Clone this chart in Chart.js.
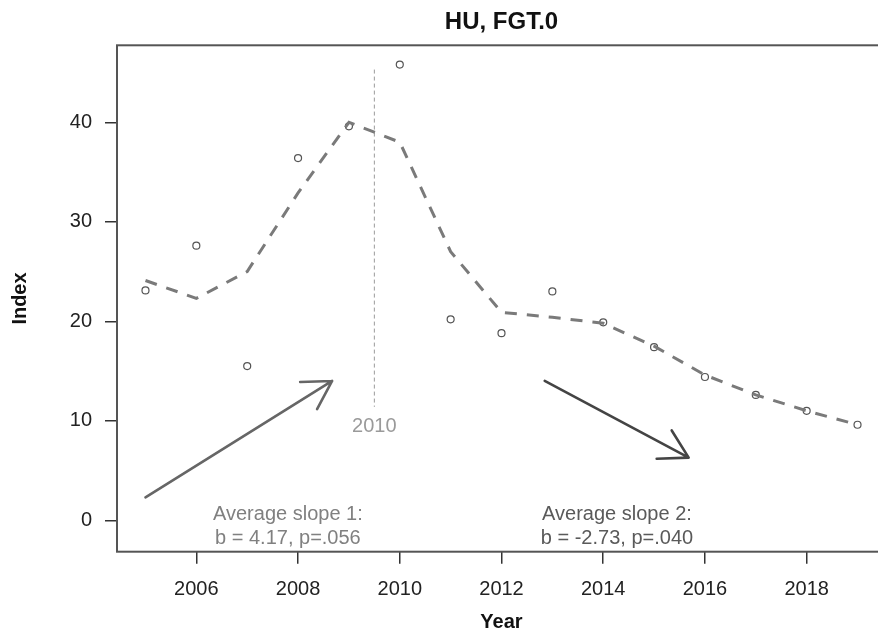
<!DOCTYPE html>
<html>
<head>
<meta charset="utf-8">
<script src="https://cdn.jsdelivr.net/npm/chart.js@4/dist/chart.umd.min.js"></script>
<style>
  html, body { margin: 0; padding: 0; background: #fff; overflow: hidden; }
  #outer { width: 878px; height: 635px; overflow: hidden; position: relative; }
  #wrap { width: 900px; height: 635px; position: absolute; left: 0; top: 0; }
</style>
</head>
<body>
<div id="outer"><div id="wrap"><canvas id="c"></canvas></div></div>
<script>
// ---- data ----
const years = [2005, 2006, 2007, 2008, 2009, 2010, 2011, 2012, 2013, 2014, 2015, 2016, 2017, 2018, 2019];
const indexValues = [23.1, 27.6, 15.5, 36.4, 39.6, 45.8, 20.2, 18.8, 23.0, 19.9, 17.4, 14.4, 12.6, 11.0, 9.6];
const smoothValues = [24.1, 22.3, 25.0, 32.9, 40.0, 38.0, 27.0, 20.9, 20.4, 19.8, 17.5, 14.6, 12.6, 11.0, 9.6];
const xTickValues = [2006, 2008, 2010, 2012, 2014, 2016, 2018];
const yTickValues = [0, 10, 20, 30, 40];
const breakYear = 2009.5;
const breakLabel = '2010';
const breakSpan = [11.4, 45.3];
const arrow1 = [[2005.0, 2.3], [2008.67, 14.0]];
const arrow2 = [[2012.85, 14.0], [2015.68, 6.3]];
const slope1Text = ['Average slope 1:', 'b = 4.17, p=.056'];
const slope2Text = ['Average slope 2:', 'b = -2.73, p=.040'];
const titleText = 'HU, FGT.0';
const xTitle = 'Year';
const yTitle = 'Index';

// ---- annotation placement (layout, not data) ----
const FONT = '"Liberation Sans", Arial, Helvetica, sans-serif';
const slope1Anchor = { x: 2007.8, y1: 0.0, y2: -2.4 };
const slope2Anchor = { x: 2014.27, y1: 0.0, y2: -2.4 };
const breakLabelY = 9.4;

const lineData = years.map((y, i) => ({ x: y, y: smoothValues[i] }));
const pointData = years.map((y, i) => ({ x: y, y: indexValues[i] }));

function drawArrow(ctx, xs, ys, a, color) {
  const x0 = xs.getPixelForValue(a[0][0]), y0 = ys.getPixelForValue(a[0][1]);
  const x1 = xs.getPixelForValue(a[1][0]), y1 = ys.getPixelForValue(a[1][1]);
  const ang = Math.atan2(y1 - y0, x1 - x0);
  const L = 32, spread = Math.PI / 6;
  ctx.save();
  ctx.strokeStyle = color;
  ctx.lineWidth = 2.6;
  ctx.lineCap = 'round';
  ctx.lineJoin = 'round';
  ctx.beginPath();
  ctx.moveTo(x0, y0); ctx.lineTo(x1, y1);
  ctx.moveTo(x1 - L * Math.cos(ang - spread), y1 - L * Math.sin(ang - spread));
  ctx.lineTo(x1, y1);
  ctx.lineTo(x1 - L * Math.cos(ang + spread), y1 - L * Math.sin(ang + spread));
  ctx.stroke();
  ctx.restore();
}

const decor = {
  id: 'decor',
  beforeDatasetsDraw(chart) {
    const { ctx, scales: { x, y } } = chart;
    ctx.save();
    ctx.strokeStyle = '#9a9a9a';
    ctx.lineWidth = 1;
    ctx.setLineDash([4, 3]);
    const bx = x.getPixelForValue(breakYear);
    ctx.beginPath();
    ctx.moveTo(bx, y.getPixelForValue(breakSpan[1]));
    ctx.lineTo(bx, y.getPixelForValue(breakSpan[0]));
    ctx.stroke();
    ctx.restore();
  },
  afterDatasetsDraw(chart) {
    const { ctx, chartArea: ca, scales: { x, y } } = chart;
    ctx.save();
    ctx.strokeStyle = '#555';
    ctx.lineWidth = 2;
    ctx.strokeRect(ca.left, ca.top, ca.right - ca.left, ca.bottom - ca.top);
    ctx.restore();

    ctx.save();
    ctx.font = '20px ' + FONT;
    ctx.fillStyle = '#9a9a9a';
    ctx.textAlign = 'center';
    ctx.textBaseline = 'middle';
    ctx.fillText(breakLabel, x.getPixelForValue(breakYear), y.getPixelForValue(breakLabelY));
    ctx.restore();

    drawArrow(ctx, x, y, arrow1, '#666');
    drawArrow(ctx, x, y, arrow2, '#444');

    ctx.save();
    ctx.font = '20px ' + FONT;
    ctx.textAlign = 'center';
    ctx.textBaseline = 'alphabetic';
    ctx.fillStyle = '#808080';
    ctx.fillText(slope1Text[0], x.getPixelForValue(slope1Anchor.x), y.getPixelForValue(slope1Anchor.y1));
    ctx.fillText(slope1Text[1], x.getPixelForValue(slope1Anchor.x), y.getPixelForValue(slope1Anchor.y2));
    ctx.fillStyle = '#5a5a5a';
    ctx.fillText(slope2Text[0], x.getPixelForValue(slope2Anchor.x), y.getPixelForValue(slope2Anchor.y1));
    ctx.fillText(slope2Text[1], x.getPixelForValue(slope2Anchor.x), y.getPixelForValue(slope2Anchor.y2));
    ctx.restore();

    const cx = (ca.left + ca.right) / 2;
    ctx.save();
    ctx.fillStyle = '#111';
    ctx.textAlign = 'center';
    ctx.textBaseline = 'middle';
    ctx.font = 'bold 24px ' + FONT;
    ctx.fillText(titleText, cx, 22);
    ctx.font = 'bold 20px ' + FONT;
    ctx.fillText(xTitle, cx, 622);
    ctx.translate(20, (ca.top + ca.bottom) / 2);
    ctx.rotate(-Math.PI / 2);
    ctx.fillText(yTitle, 0, 0);
    ctx.restore();
  }
};

new Chart(document.getElementById('c'), {
  type: 'scatter',
  data: {
    datasets: [
      {
        label: 'smooth',
        data: lineData,
        showLine: true,
        borderColor: '#7a7a7a',
        borderWidth: 3,
        borderDash: [12, 10],
        pointRadius: 0,
        tension: 0,
        fill: false
      },
      {
        label: 'Index',
        data: pointData,
        showLine: false,
        pointRadius: 3.5,
        pointBorderWidth: 1.2,
        pointBorderColor: '#555',
        pointBackgroundColor: 'rgba(0,0,0,0)'
      }
    ]
  },
  options: {
    responsive: true,
    maintainAspectRatio: false,
    devicePixelRatio: 1,
    animation: false,
    events: [],
    layout: { padding: { top: 45.3, right: 14, left: 0, bottom: 0 } },
    plugins: { legend: { display: false }, title: { display: false }, tooltip: { enabled: false } },
    scales: {
      x: {
        type: 'linear',
        min: 2004.44,
        max: 2019.56,
        afterBuildTicks(s) { s.ticks = xTickValues.map(v => ({ value: v })); },
        afterFit(s) { s.height = 83.3; },
        ticks: {
          autoSkip: false,
          maxRotation: 0,
          padding: 14,
          color: '#222',
          font: { family: FONT, size: 20 },
          callback: v => String(v)
        },
        grid: { drawOnChartArea: false, drawTicks: true, tickLength: 12, color: '#333', lineWidth: 1.5 },
        border: { display: false }
      },
      y: {
        type: 'linear',
        min: -3.16,
        max: 47.74,
        afterBuildTicks(s) { s.ticks = yTickValues.map(v => ({ value: v })); },
        afterFit(s) { s.width = 117; },
        ticks: {
          autoSkip: false,
          padding: 13,
          color: '#222',
          font: { family: FONT, size: 20 },
          callback: v => String(v)
        },
        grid: { drawOnChartArea: false, drawTicks: true, tickLength: 12, color: '#333', lineWidth: 1.5 },
        border: { display: false }
      }
    }
  },
  plugins: [decor]
});
</script>
</body>
</html>
